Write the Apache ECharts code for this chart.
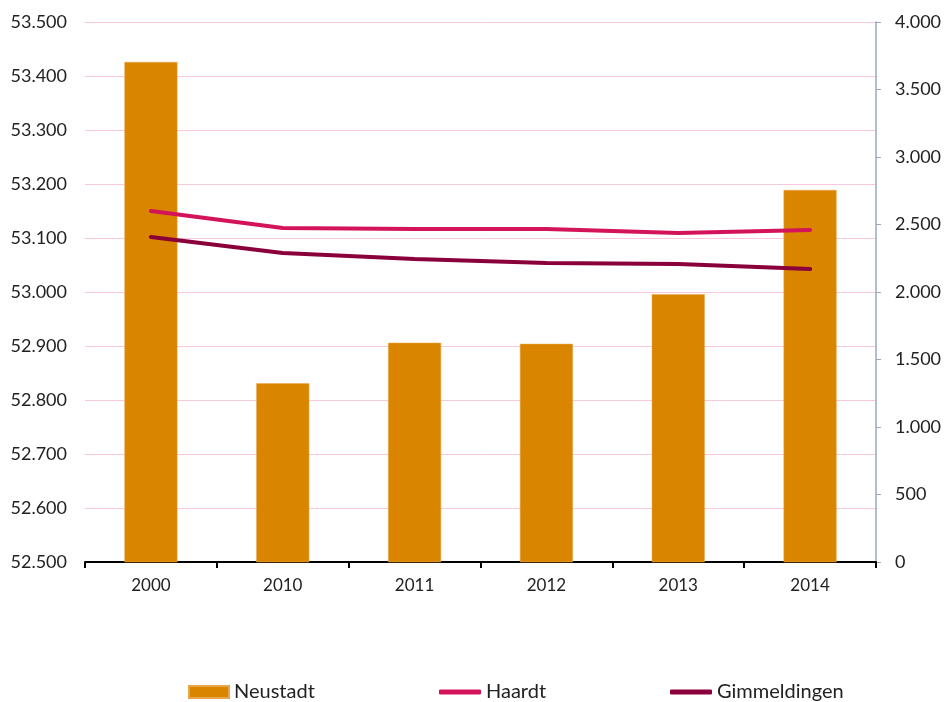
<!DOCTYPE html>
<html><head><meta charset="utf-8">
<script src="https://cdn.jsdelivr.net/npm/echarts@6/dist/echarts.min.js"></script>
<style>html,body{margin:0;padding:0;background:#fff}#c{width:948px;height:702px}</style>
</head><body><div id="c"></div>
<script>
const categories = ['2000','2010','2011','2012','2013','2014'];
const neustadt = [53426, 52831, 52906, 52904, 52996, 53189];
const haardt = [2600, 2474, 2467, 2466, 2437, 2459];
const gimmeldingen = [2407, 2289, 2244, 2215, 2207, 2170];
const leftTicks = {min: 52500, max: 53500, interval: 100};
const rightTicks = {min: 0, max: 4000, interval: 500};

const fmt = v => String(v).replace(/\B(?=(\d{3})+(?!\d))/g, '.');
const font = 'Lato, "Noto Sans", sans-serif';
const legendText = {fontSize: 20, color: '#222', fontFamily: font};
const chart = echarts.init(document.getElementById('c'));
chart.setOption({
  animation: false,
  grid: {left: 85, right: 72, top: 22, bottom: 140},
  legend: [
    {left: 188, top: 682, padding: 0, itemWidth: 40, itemHeight: 12, icon: 'rect', data: ['Neustadt'], textStyle: legendText},
    {left: 439, top: 682, padding: 0, itemWidth: 42, itemHeight: 5, icon: 'roundRect', data: ['Haardt'], textStyle: legendText},
    {left: 670, top: 682, padding: 0, itemWidth: 42, itemHeight: 5, icon: 'roundRect', data: ['Gimmeldingen'], textStyle: legendText}
  ],
  xAxis: {
    type: 'category', data: categories,
    axisLine: {lineStyle: {color: '#000', width: 2}},
    axisTick: {show: true, length: 6, lineStyle: {color: '#000', width: 2}},
    axisLabel: {fontSize: 17, color: '#222', fontFamily: font, margin: 15}
  },
  yAxis: [
    {type: 'value', position: 'left', min: leftTicks.min, max: leftTicks.max, interval: leftTicks.interval,
     axisLine: {show: false}, axisTick: {show: false},
     axisLabel: {fontSize: 18, color: '#222', fontFamily: font, margin: 18, formatter: fmt},
     splitLine: {lineStyle: {color: '#F8C9DD', width: 1}}},
    {type: 'value', position: 'right', min: rightTicks.min, max: rightTicks.max, interval: rightTicks.interval,
     axisLine: {show: true, lineStyle: {color: '#98A8BE', width: 1.5}},
     axisTick: {show: true, length: 5, lineStyle: {color: '#98A8BE'}},
     axisLabel: {fontSize: 18, color: '#222', fontFamily: font, margin: 19, formatter: fmt},
     splitLine: {show: false}}
  ],
  series: [
    {name: 'Neustadt', type: 'bar', yAxisIndex: 0, data: neustadt, barWidth: 53,
     itemStyle: {color: '#D98500', borderColor: '#E8A64A', borderWidth: 0.5}},
    {name: 'Haardt', type: 'line', yAxisIndex: 1, data: haardt, symbol: 'none',
     lineStyle: {color: '#D4145A', width: 4, cap: 'round'}, itemStyle: {color: '#D4145A'}},
    {name: 'Gimmeldingen', type: 'line', yAxisIndex: 1, data: gimmeldingen, symbol: 'none',
     lineStyle: {color: '#8A003A', width: 4, cap: 'round'}, itemStyle: {color: '#8A003A'}}
  ]
});
</script></body></html>
